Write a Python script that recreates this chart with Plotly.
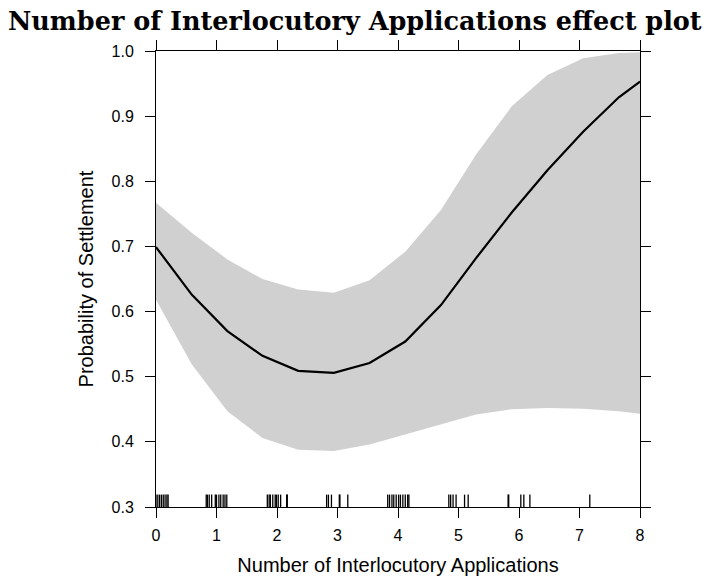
import plotly.graph_objects as go

# effect estimates on the grid of x values
x_grid = [0, 0.59, 1.18, 1.76, 2.35, 2.94, 3.53, 4.12, 4.71, 5.29, 5.88, 6.47, 7.06, 7.65, 8.0]
fit = [0.699, 0.626, 0.570, 0.532, 0.509, 0.506, 0.521, 0.554, 0.610, 0.682, 0.752, 0.817, 0.876, 0.929, 0.953]
upper = [0.767, 0.721, 0.680, 0.650, 0.634, 0.629, 0.648, 0.692, 0.756, 0.841, 0.915, 0.963, 0.989, 0.997, 0.998]
lower = [0.618, 0.519, 0.447, 0.406, 0.388, 0.386, 0.396, 0.411, 0.427, 0.442, 0.450, 0.452, 0.451, 0.447, 0.443]

# jittered observed values (rug)
rug_x = [0.0, 0.03, 0.06, 0.09, 0.12, 0.15, 0.18, 0.2,
         0.83, 0.85, 0.88, 0.92, 0.98, 1.0, 1.04, 1.07, 1.11, 1.14, 1.17,
         1.84, 1.87, 1.89, 1.93, 1.97, 1.99, 2.02, 2.06, 2.16, 2.17,
         2.82, 2.85, 2.90, 3.03, 3.04, 3.17,
         3.83, 3.86, 3.90, 3.93, 3.97, 4.01, 4.04, 4.08, 4.12, 4.16, 4.18,
         4.84, 4.87, 4.91, 4.96, 5.10, 5.16,
         5.82, 5.83, 6.03, 6.08, 6.18, 7.17]

fig = go.Figure()

# confidence band
fig.add_trace(go.Scatter(
    x=x_grid + x_grid[::-1],
    y=upper + lower[::-1],
    fill="toself",
    fillcolor="rgb(208,208,208)",
    line=dict(width=0),
    mode="lines",
    hoverinfo="skip",
    showlegend=False,
))

fig.add_trace(go.Scatter(
    x=x_grid, y=fit,
    mode="lines",
    line=dict(color="black", width=2.2),
    showlegend=False,
))

# rug
rx, ry = [], []
for v in rug_x:
    rx += [v, v, None]
    ry += [0.3, 0.319, None]
fig.add_trace(go.Scatter(
    x=rx, y=ry,
    mode="lines",
    line=dict(color="black", width=1.3),
    showlegend=False,
))

axis_style = dict(
    showline=True, mirror="ticks", linecolor="black", linewidth=1,
    ticks="outside", ticklen=10, tickcolor="black", tickwidth=1,
    showgrid=False, zeroline=False,
    tickfont=dict(family="Liberation Sans, Arial", size=16, color="black"),
)
title_font = dict(family="Liberation Sans, Arial", size=20, color="black")

fig.update_layout(
    width=724, height=582,
    margin=dict(l=148, r=92, t=43, b=83),
    plot_bgcolor="white", paper_bgcolor="white",
    title=dict(
        text="<b>Number of Interlocutory Applications effect plot</b>",
        font=dict(family="DejaVu Serif", size=25.5, color="black"),
        x=0, xref="container", xanchor="left",
        y=0.978, yref="container", yanchor="middle",
    ),
    xaxis=dict(
        range=[0, 8], tickvals=[0, 1, 2, 3, 4, 5, 6, 7, 8],
        ticklabelstandoff=4,
        title=dict(text="Number of Interlocutory Applications",
                   font=title_font, standoff=14),
        **axis_style,
    ),
    yaxis=dict(
        range=[0.3, 1.0], tickvals=[0.3, 0.4, 0.5, 0.6, 0.7, 0.8, 0.9, 1.0],
        tickformat=".1f",
        ticklabelstandoff=8,
        title=dict(text="Probability of Settlement",
                   font=title_font, standoff=12),
        **axis_style,
    ),
)

fig.write_html("out.html")
